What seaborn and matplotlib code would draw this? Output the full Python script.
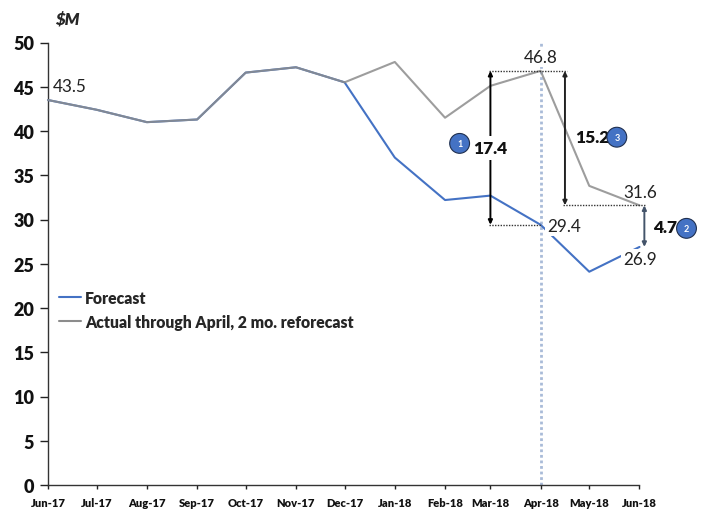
import pandas as pd
import seaborn as sns
import matplotlib.pyplot as plt
import matplotlib.dates as mdates

months = pd.date_range("2017-06-01", "2018-06-01", freq="MS")
forecast = [43.5, 42.4, 41.0, 41.3, 46.6, 47.2, 45.5, 37.0, 32.2, 32.7, 29.4, 24.1, 26.9]
actual = [43.5, 42.4, 41.0, 41.3, 46.6, 47.2, 45.5, 47.8, 41.5, 45.1, 46.8, 33.8, 31.6]
y_ticks = [0, 5, 10, 15, 20, 25, 30, 35, 40, 45, 50]

FORECAST_NAME = "Forecast"
ACTUAL_NAME = "Actual through April, 2 mo. reforecast"
BLUE = "#4472C4"
GREY = "#8C8C8C"

df = pd.DataFrame({"month": months, FORECAST_NAME: forecast, ACTUAL_NAME: actual})
long_df = df.melt(id_vars="month", var_name="series", value_name="value")

sns.set_style("white")
plt.rcParams["font.family"] = ["Lato", "DejaVu Sans"]

fig = plt.figure(figsize=(7.02, 5.10), dpi=100)
ax = fig.add_axes([48 / 702, 1 - 486 / 510, 591.5 / 702, 442.5 / 510])

sns.lineplot(data=long_df, x="month", y="value", hue="series",
             hue_order=[FORECAST_NAME, ACTUAL_NAME],
             palette=[BLUE, GREY], linewidth=1.5, ax=ax, zorder=3, clip_on=False)

ax.set_xlim(months[0], months[-1])
ax.set_ylim(0, 50)
ax.set_yticks(y_ticks)
ax.set_xticks(months)
ax.xaxis.set_major_formatter(mdates.DateFormatter("%b-%y"))
ax.set_xlabel("")
ax.set_ylabel("")
ax.tick_params(axis="y", labelsize=13, length=6, width=1, left=True, color="#222222", pad=4)
ax.tick_params(axis="x", labelsize=8, length=3, width=1, bottom=True, color="#222222", pad=6)
for lab in ax.get_xticklabels() + ax.get_yticklabels():
    lab.set_fontweight("heavy")
    lab.set_color("#111111")
sns.despine(ax=ax)
for side in ["left", "bottom"]:
    ax.spines[side].set_color("#333333")
    ax.spines[side].set_linewidth(1)

ax.legend(loc="lower left", bbox_to_anchor=(0.0, 0.326), frameon=False,
          prop={"weight": "heavy", "size": 11.3}, handlelength=1.4, handletextpad=0.25,
          labelspacing=0.5, borderaxespad=0.3)
ax.lines[1].set_alpha(0.85)

ax.text(0.012, 1.055, "$M", transform=ax.transAxes, fontsize=12, fontweight="heavy",
        fontstyle="italic", va="center", ha="left", parse_math=False)

# april marker line
apr = pd.Timestamp("2018-04-01")
ax.plot([apr, apr], [0, 50], color="#A9BBD8", linestyle=(0, (1, 1)), linewidth=2, zorder=2, clip_on=False)

# value labels
labels = [("2017-06-04", 45.1, "43.5", "left"), ("2018-04-01", 48.4, "46.8", "center"),
          ("2018-04-05", 29.3, "29.4", "left"), ("2018-05-22", 33.1, "31.6", "left"),
          ("2018-05-22", 25.5, "26.9", "left")]
for d, y, txt, ha in labels:
    box = {"facecolor": "white", "edgecolor": "none", "pad": 1.5} if txt in ("46.8", "29.4", "26.9") else None
    ax.text(pd.Timestamp(d), y, txt, fontsize=12.3, ha=ha, va="center", color="#222222", bbox=box, zorder=4)

# dotted guide lines
guides = [("2018-02-28", "2018-04-17", 46.8), ("2018-02-28", "2018-04-01", 29.4),
          ("2018-04-15", "2018-06-05", 31.6)]
for x0, x1, y in guides:
    ax.plot([pd.Timestamp(x0), pd.Timestamp(x1)], [y, y], color="#333333",
            linestyle=(0, (1, 1)), linewidth=1, zorder=4, clip_on=False)

# difference arrows
arrows = [("2018-03-01", 46.8, 29.4, "black", 1.4), ("2018-04-16", 46.8, 31.6, "#222222", 1.4),
          ("2018-06-04", 31.6, 26.9, "#44546A", 1.4)]
for d, y0, y1, col, lw in arrows:
    ax.annotate("", xy=(pd.Timestamp(d), y1), xytext=(pd.Timestamp(d), y0), zorder=4,
                annotation_clip=False,
                arrowprops={"arrowstyle": "<|-|>,head_width=0.12,head_length=0.25", "color": col,
                            "lw": lw, "shrinkA": 0, "shrinkB": 0})

# bold gap values
gaps = [("2018-03-01", 38.1, "17.4", "white"), ("2018-05-03", 39.3, "15.2", None),
        ("2018-06-17", 29.1, "4.7", None)]
for d, y, txt, bg in gaps:
    box = {"facecolor": bg, "edgecolor": "none", "pad": 3} if bg else None
    ax.text(pd.Timestamp(d), y, txt, fontsize=12.5, fontweight="heavy", ha="center", va="center",
            color="#111111", bbox=box, zorder=5, clip_on=False)

# numbered circles
badges = [("2018-02-10", 38.6, "1"), ("2018-05-18", 39.3, "3"), ("2018-06-30", 29.0, "2")]
for d, y, txt in badges:
    ax.text(pd.Timestamp(d), y, txt, fontsize=6.5, fontweight="bold", color="white", ha="center",
            va="center", zorder=6, clip_on=False,
            bbox={"boxstyle": "circle,pad=0.6", "facecolor": BLUE, "edgecolor": "#1F2F4F", "linewidth": 0.8})

fig.savefig("out.png", dpi=100)
